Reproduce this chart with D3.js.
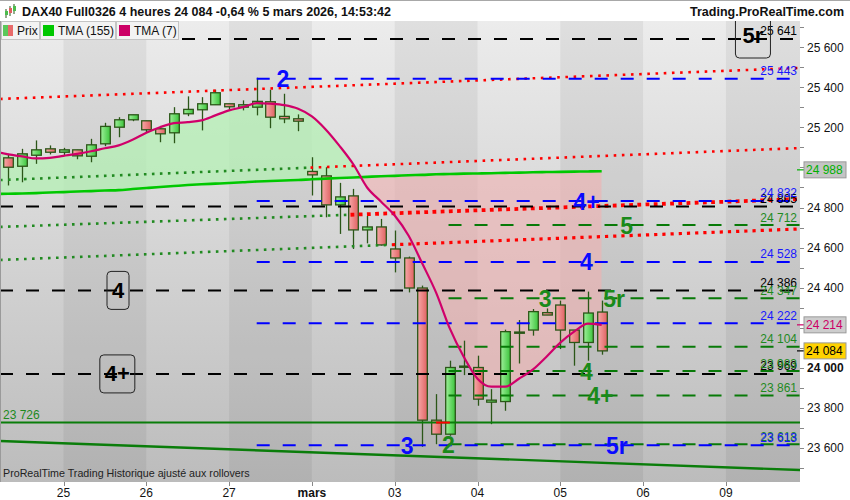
<!DOCTYPE html>
<html><head><meta charset="utf-8">
<script src="https://d3js.org/d3.v7.min.js"></script>
<style>html,body{margin:0;padding:0;background:#fff}svg{display:block}text{font-family:"Liberation Sans",Arial,Helvetica,sans-serif}</style>
</head><body>
<svg id="chart" width="850" height="500"></svg>
<script>
// ---------------- DATA ----------------
const candleOpen  = [25048,25006,25061,25093,25076,25088,25056,25118,25201,25238,25233,25193,25173,25268,25288,25313,25318,25301,25301,25328,25255,25243,24980,24958,24813,24858,24688,24703,24593,24548,24398,23738,23668,24003,24001,23828,23831,24174,24188,24275,24313,24188,24126,24278];
const candleHigh  = [25068,25093,25135,25110,25098,25088,25143,25223,25251,25263,25233,25205,25301,25355,25351,25388,25318,25335,25448,25388,25368,25265,25051,25001,24923,24893,24758,24743,24685,24555,24410,23868,24035,24135,24060,23893,24190,24238,24293,24296,24335,24188,24380,24335];
const candleLow   = [24910,24926,25018,25065,25060,25041,25026,25106,25151,25231,25176,25126,25121,25256,25185,25313,25285,25285,25260,25196,25221,25181,24860,24751,24668,24593,24621,24610,24476,24376,23605,23618,23660,23963,23810,23718,23785,24021,24160,24263,24093,24010,24035,24065];
const candleClose = [25001,25068,25088,25076,25088,25058,25113,25205,25238,25263,25188,25168,25268,25290,25318,25373,25303,25313,25330,25251,25243,25231,24963,24813,24853,24688,24703,24613,24548,24398,23738,23668,24001,24008,23843,23838,24180,24178,24280,24263,24188,24126,24273,24084];
// moving averages, first value is the candle just left of the view (index -1)
const tma7   = [25080,25065,25055,25045,25048,25058,25068,25081,25096,25110,25138,25173,25201,25221,25226,25235,25260,25285,25301,25321,25318,25311,25293,25255,25190,25108,25016,24900,24830,24760,24660,24520,24375,24195,24055,23945,23905,23905,23945,23990,24055,24125,24180,24220,24214];
const tma155 = [24867,24869,24870,24872,24875,24877,24880,24882,24885,24887,24892,24897,24902,24907,24912,24916,24919,24922,24926,24930,24932,24935,24937,24941,24944,24947,24950,24953,24956,24958,24961,24963,24966,24967,24969,24970,24971,24973,24974,24976,24977,24978,24979,24980,24981];
const dayIdx    = [4,10,16,22,28,34,40,46,52];
const dayLabels = ["25","26","27","mars","03","04","05","06","09"];
const yTicks    = [25600,25400,25200,24800,24600,24400,24000,23800,23600];
const levelBlack = [25641,24805,24386,23969];
const levelBlue  = [25443,24832,24528,24222,23613];
const levelGreen = [24712,24347,24104,23983,23861,23618];
const blueStartIdx = 18, greenStartIdx = 31.9;
const supportLevel = 23726;
// sloped lines: price at idx -0.6 and idx 57.4, idx where the dotted line turns red
const trendP0 = [25342,24937,24703,24538];
const trendP1 = [25497,25097,24842,24693];
const trendSplit = [-0.6,21.9,24.8,27.8];
const supportP0 = 23634, supportP1 = 23489;
// wave labels
const waveText  = ["2","4+","4","3","5r","5","3","5r","4","4+","2"];
const waveIdx   = [19.9,41.9,41.9,28.9,44.1,44.8,38.9,43.9,41.9,42.9,31.9];
const waveLevel = [25443,24832,24528,23613,23613,24712,24347,24347,23983,23861,23618];
const waveBlue  = [true,true,true,true,true,false,false,false,false,false,false];
const boxText  = ["5r","4","4+"];
const boxIdx   = [53.96,7.95,7.9];
const boxLevel = [25641,24386,23969];
const lastPrice = 24084, tma155Last = 24988, tma7Last = 24214;

// ---------------- LAYOUT ----------------
const W=850,H=500, pL=0, pR=800, pT=21, pB=482;
const svg=d3.select("#chart");
const defs=svg.append("defs");
const x=d3.scaleLinear().domain([0,52]).range([8.3,725.9]);
const y=d3.scaleLinear().domain([23600,25600]).range([447.8,47.3]);
const fmt=v=>String(v).replace(/\B(?=(\d{3})+(?!\d))/g," ");

svg.append("rect").attr("width",W).attr("height",H).attr("fill","#fff");
svg.append("line").attr("x1",0).attr("x2",W).attr("y1",0.5).attr("y2",0.5).attr("stroke","#a8a8a8");

const bg=defs.append("linearGradient").attr("id","bg").attr("x1",0).attr("y1",0).attr("x2",0).attr("y2",1);
bg.append("stop").attr("offset",0).attr("stop-color","#ececec");
bg.append("stop").attr("offset",1).attr("stop-color","#bcbcbc");
const gG=defs.append("linearGradient").attr("id","gbody");
gG.append("stop").attr("offset",0).attr("stop-color","#9ef09a");
gG.append("stop").attr("offset",1).attr("stop-color","#3cc43c");
const rG=defs.append("linearGradient").attr("id","rbody");
rG.append("stop").attr("offset",0).attr("stop-color","#f7a8a8");
rG.append("stop").attr("offset",1).attr("stop-color","#e06262");
defs.append("clipPath").attr("id","plotclip").append("rect").attr("x",pL).attr("y",pT).attr("width",pR-pL).attr("height",pB-pT);

const plot=svg.append("g").attr("clip-path","url(#plotclip)");
plot.append("rect").attr("x",pL).attr("y",pT).attr("width",pR-pL).attr("height",pB-pT).attr("fill","url(#bg)");
// day bands
const bandEdges=[-1].concat(dayIdx).concat([58]);
for(let k=0;k<bandEdges.length-1;k++){
  if(k%2===1) plot.append("rect").attr("x",x(bandEdges[k])).attr("y",pT).attr("width",x(bandEdges[k+1])-x(bandEdges[k])).attr("height",pB-pT).attr("fill","#000").attr("opacity",0.055);
}

// fills between TMA7 and TMA155
const idxs=tma7.map((d,i)=>i-1);
const areaBetween=d3.area().x(i=>x(i)).y0(i=>y(tma155[i+1])).y1(i=>y(tma7[i+1]));
defs.append("clipPath").attr("id","above").append("path").attr("d",d3.area().x(i=>x(i)).y0(pT-50).y1(i=>y(tma155[i+1]))(idxs));
defs.append("clipPath").attr("id","below").append("path").attr("d",d3.area().x(i=>x(i)).y0(pB+50).y1(i=>y(tma155[i+1]))(idxs));
plot.append("path").attr("d",areaBetween(idxs)).attr("fill","#b4f0b4").attr("opacity",0.75).attr("clip-path","url(#above)");
plot.append("path").attr("d",areaBetween(idxs)).attr("fill","#f0b0b0").attr("opacity",0.6).attr("clip-path","url(#below)");

// candles
const cg=plot.append("g");
candleOpen.forEach((o,i)=>{
  const c=candleClose[i], up=c>=o;
  const cx=Math.round(x(i))+0.5;
  cg.append("line").attr("x1",cx).attr("x2",cx).attr("y1",y(candleHigh[i])).attr("y2",y(candleLow[i])).attr("stroke","#2b5618").attr("stroke-width",1.3);
  const top=y(Math.max(o,c)), bot=y(Math.min(o,c));
  cg.append("rect").attr("x",cx-4.8).attr("y",top).attr("width",9.6).attr("height",Math.max(bot-top,1.2))
    .attr("fill",up?"url(#gbody)":"url(#rbody)").attr("stroke","#2b5618").attr("stroke-width",1.3);
});

// sloped dotted lines
const xa=-0.6, xb=57.4;
trendP0.forEach((p0,k)=>{
  const p1=trendP1[k], s=trendSplit[k];
  const ps=p0+(p1-p0)*(s-xa)/(xb-xa);
  if(s>xa) plot.append("line").attr("x1",x(xa)).attr("y1",y(p0)).attr("x2",x(s)).attr("y2",y(ps))
      .attr("stroke","#218a21").attr("stroke-width",2.6).attr("stroke-dasharray","2.6,5.4");
  const wR = k===2?3.8:(k===3?3.2:2.6);
  plot.append("line").attr("x1",x(s)).attr("y1",y(ps)).attr("x2",x(xb)).attr("y2",y(p1))
      .attr("stroke","#ff0000").attr("stroke-width",wR).attr("stroke-dasharray",wR+","+(8.2-wR));
});
// support lines
plot.append("line").attr("x1",pL).attr("x2",pR).attr("y1",y(supportLevel)).attr("y2",y(supportLevel)).attr("stroke","#0a7d0a").attr("stroke-width",2);
plot.append("line").attr("x1",x(31)).attr("x2",x(32)).attr("y1",y(supportLevel)).attr("y2",y(supportLevel)).attr("stroke","#ff0000").attr("stroke-width",2);
plot.append("line").attr("x1",x(xa)).attr("y1",y(supportP0)).attr("x2",x(xb)).attr("y2",y(supportP1)).attr("stroke","#0a7d0a").attr("stroke-width",2.4);

// horizontal levels
levelBlack.forEach(v=>plot.append("line").attr("x1",pL).attr("x2",pR).attr("y1",y(v)).attr("y2",y(v)).attr("stroke","#000").attr("stroke-width",2).attr("stroke-dasharray","13,13"));
levelGreen.forEach(v=>plot.append("line").attr("x1",x(greenStartIdx)).attr("x2",pR).attr("y1",y(v)).attr("y2",y(v)).attr("stroke","#087a08").attr("stroke-width",2).attr("stroke-dasharray","13,13"));
levelBlue.forEach(v=>plot.append("line").attr("x1",x(blueStartIdx)).attr("x2",pR).attr("y1",y(v)).attr("y2",y(v)).attr("stroke","#0000ff").attr("stroke-width",2).attr("stroke-dasharray","13,13"));

// moving average lines
plot.append("path").attr("d",d3.line().x(i=>x(i)).y(i=>y(tma155[i+1])).curve(d3.curveMonotoneX)(idxs)).attr("fill","none").attr("stroke","#00c800").attr("stroke-width",2.6);
plot.append("path").attr("d",d3.line().x(i=>x(i)).y(i=>y(tma7[i+1])).curve(d3.curveMonotoneX)(idxs)).attr("fill","none").attr("stroke","#d0006a").attr("stroke-width",2.2);

// level value labels
const lblG=plot.append("g").attr("font-size",12).attr("text-anchor","end");
levelBlack.forEach(v=>lblG.append("text").attr("x",797).attr("y",y(v)-3.6).attr("fill","#000").text(fmt(v)));
levelGreen.forEach(v=>lblG.append("text").attr("x",797).attr("y",y(v)-3.6).attr("fill","#1e8a1e").text(fmt(v)));
levelBlue.forEach(v=>lblG.append("text").attr("x",797).attr("y",y(v)-3.6).attr("fill","#1818ff").text(fmt(v)));
plot.append("text").attr("x",3).attr("y",y(supportLevel)-3.6).attr("font-size",12).attr("fill","#1e8a1e").text(fmt(supportLevel));

// wave labels
waveText.forEach((t,k)=>plot.append("text").attr("x",x(waveIdx[k])).attr("y",y(waveLevel[k])+8.5).attr("text-anchor","middle")
  .attr("font-size",23).attr("font-weight","bold").attr("fill",waveBlue[k]?"#0a0aff":"#1a8a1a").text(t));
// boxed black labels
boxText.forEach((t,k)=>{
  const cx=x(boxIdx[k]), cy=y(boxLevel[k]);
  const w = t.length>1?35:22;
  plot.append("rect").attr("x",cx-w/2).attr("y",k===0?12:cy-19).attr("width",w).attr("height",k===0?46:38).attr("rx",4)
    .attr("fill","none").attr("stroke","#222").attr("stroke-width",1);
  plot.append("text").attr("x",cx).attr("y",k===0?cy+4:cy+7.5).attr("text-anchor","middle").attr("font-size",22).attr("font-weight","bold").attr("fill","#000").text(t);
});

// legend (over plot)
const leg=svg.append("g").attr("font-size",12);
const legItems=[{x:1,w:38,t:"Prix"},{x:40,w:75,t:"TMA (155)",c:"#00c800"},{x:116,w:62,t:"TMA (7)",c:"#cc0066"}];
legItems.forEach((d,k)=>{
  leg.append("rect").attr("x",d.x+0.5).attr("y",21.5).attr("width",d.w).attr("height",18).attr("fill","#f3f3f3").attr("stroke","#c4c4c4");
  if(k===0){
    leg.append("rect").attr("x",d.x+2).attr("y",25).attr("width",5).attr("height",11).attr("fill","#5ac85a");
    leg.append("rect").attr("x",d.x+7).attr("y",25).attr("width",5).attr("height",11).attr("fill","#e86a6a");
  } else leg.append("rect").attr("x",d.x+3).attr("y",25).attr("width",11).attr("height",11).attr("fill",d.c);
  leg.append("text").attr("x",d.x+(k===0?16:18)).attr("y",35).attr("fill","#111").text(d.t);
});

// header
svg.append("text").attr("x",22).attr("y",16).attr("font-size",12.5).attr("font-weight","bold").attr("fill","#111")
  .text("DAX40 Full0326 4 heures 24 084 -0,64 % 5 mars 2026, 14:53:42");
svg.append("text").attr("x",844).attr("y",16).attr("font-size",12.5).attr("font-weight","bold").attr("fill","#111").attr("text-anchor","end")
  .text("Trading.ProRealTime.com");
// header icon
[[5,9,13,"#4cbb4c"],[9,6,11,"#e06060"],[13,4,9,"#4cbb4c"]].forEach(d=>{
  svg.append("line").attr("x1",d[0]+1).attr("x2",d[0]+1).attr("y1",d[1]).attr("y2",d[2]+5).attr("stroke","#2b5618");
  svg.append("rect").attr("x",d[0]).attr("y",d[1]+2).attr("width",3).attr("height",d[2]-d[1]).attr("fill",d[3]);
});

// bottom text
svg.append("text").attr("x",3).attr("y",477).attr("font-size",10.7).attr("fill","#222").text("ProRealTime Trading  Historique ajusté aux rollovers");

// left border
svg.append("line").attr("x1",0.5).attr("x2",0.5).attr("y1",pT).attr("y2",pB).attr("stroke","#9a9a9a");

// right axis
const ax=svg.append("g").attr("font-size",12);
d3.range(23500,25701,100).forEach(v=>{ if(y(v)>pT && y(v)<pB) ax.append("line").attr("x1",pR).attr("x2",pR+4).attr("y1",Math.round(y(v))+0.5).attr("y2",Math.round(y(v))+0.5).attr("stroke","#888");});
yTicks.forEach(v=>ax.append("text").attr("x",807).attr("y",y(v)+4.3).attr("fill","#111").attr("font-weight",(v%1000===0)?"bold":"normal").text(fmt(v)));
// value boxes
function vbox(v,bgc,fg,tick){
  const yy=y(v);
  ax.append("line").attr("x1",pR-3).attr("x2",pR+4).attr("y1",yy).attr("y2",yy).attr("stroke",tick).attr("stroke-width",1.2);
  ax.append("rect").attr("x",804).attr("y",yy-8).attr("width",42).attr("height",16).attr("fill",bgc).attr("stroke","#9a9a9a");
  ax.append("text").attr("x",806).attr("y",yy+4.3).attr("fill",fg).text(fmt(v));
}
vbox(tma155Last,"#c4c4c4","#00b000","#00b000");
vbox(tma7Last,"#cdcdcd","#cc0066","#cc0066");
vbox(lastPrice,"#ffd200","#000","#000");

// bottom axis
const bx=svg.append("g").attr("font-size",12).attr("text-anchor","middle");
dayIdx.forEach((d,k)=>{
  bx.append("line").attr("x1",Math.round(x(d))+0.5).attr("x2",Math.round(x(d))+0.5).attr("y1",pB).attr("y2",pB+4).attr("stroke","#888");
  bx.append("text").attr("x",x(d)).attr("y",497).attr("fill","#111").attr("font-weight",dayLabels[k]==="mars"?"bold":"normal").text(dayLabels[k]);
});
</script>
</body></html>
